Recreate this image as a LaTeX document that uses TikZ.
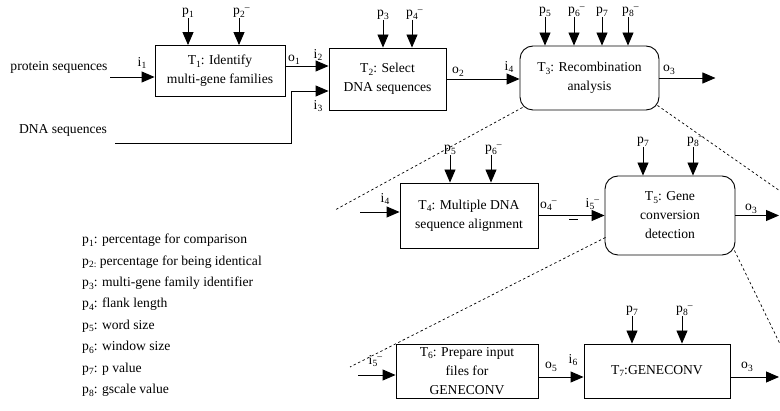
\documentclass[tikz,border=0pt]{standalone}
\usepackage{fontspec}
\setmainfont{Liberation Serif}
\usetikzlibrary{arrows.meta,positioning,calc}
\newcommand{\dn}[1]{\raisebox{-2.5pt}{\fontsize{9.5}{9.5}\selectfont#1}}
\newcommand{\up}[1]{\rlap{\raisebox{4.5pt}{\fontsize{9.5}{9.5}\selectfont#1}}}
\tikzset{task/.style={draw,line width=.9pt,align=center,inner sep=2pt,font=\fontsize{13.6}{19}\selectfont},
  ana/.style={task,rounded corners=13pt},
  flow/.style={line width=.9pt,-{Triangle[length=13pt,width=11pt]}},
  zoomline/.style={line width=.7pt,dash pattern=on 2.5pt off 2.5pt},
  lbl/.style={inner sep=0pt,font=\fontsize{13.6}{15}\selectfont}}
\begin{document}
\begin{tikzpicture}[x=1pt,y=-1pt]
\useasboundingbox (0,0) rectangle (780,411);
% top level workflow
\node[task,minimum width=130,minimum height=51] (T1) at (220,71) {T\dn{1}: Identify\\multi-gene families};
\node[task,minimum width=117,minimum height=62] (T2) at (387.5,79) {T\dn{2}: Select\\DNA sequences};
\node[ana,minimum width=139,minimum height=64] (T3) at (589.5,78) {T\dn{3}: Recombination\\analysis};
\node[lbl] (prot) at (59,67) {protein sequences};
\node[lbl] (dna) at (63,130) {DNA sequences};
\coordinate (pin) at (110,77);
\coordinate (din) at (115,143);
\coordinate (bend) at (291,91);
\coordinate (o1) at ([yshift=5pt]T1.east);
\coordinate (T3out) at ([xshift=56pt]T3.east);
\draw[flow] (pin) -- (pin -| T1.west);
\draw[flow] (o1) -- (o1 -| T2.west);
\draw[flow] (din) -| (bend) -- (bend -| T2.west);
\draw[flow] (T2.east) -- (T2.east -| T3.west);
\draw[flow] (T3.east) -- (T3out);
\node[lbl] (i1) at (142,63) {i\dn{1}};
\node[lbl] (o1l) at (294,60) {o\dn{1}};
\node[lbl] (i2) at (318,55) {i\dn{2}};
\node[lbl] (i3) at (318,106) {i\dn{3}};
\node[lbl] (o2) at (458,72) {o\dn{2}};
\node[lbl] (i4) at (509,67) {i\dn{4}};
\node[lbl] (o3) at (669,70) {o\dn{3}};
% parameters of the top level
\node[lbl,anchor=south] (p1) at (188,18) {p\dn{1}};
\node[lbl,anchor=south] (p2) at (239,18) {p\dn{2}\up{–}};
\node[lbl,anchor=south] (p3) at (383,20) {p\dn{3}};
\node[lbl,anchor=south] (p4) at (412,20) {p\dn{4}\up{–}};
\node[lbl,anchor=south] (p5) at (545,17) {p\dn{5}};
\node[lbl,anchor=south] (p6) at (574,17) {p\dn{6}\up{–}};
\node[lbl,anchor=south] (p7) at (602,17) {p\dn{7}};
\node[lbl,anchor=south] (p8) at (628,17) {p\dn{8}\up{–}};
\foreach \p/\t in {p1/T1,p2/T1,p3/T2,p4/T2,p5/T3,p6/T3,p7/T3,p8/T3}
  \draw[flow] (\p.south) -- (\p.south |- \t.north);
% T3 refined
\node[task,minimum width=138,minimum height=65] (T4) at (469,215.5) {T\dn{4}: Multiple DNA\\sequence alignment};
\node[ana,minimum width=130,minimum height=79] (T5) at (670,215.5) {T\dn{5}: Gene\\conversion\\detection};
\coordinate (T4in) at (360,212);
\coordinate (T5out) at (779,215.5);
\draw[flow] (T4in) -- (T4in -| T4.west);
\draw[flow] (T4.east) -- (T5.west);
\draw[line width=.9pt] (569,219.5) -- (578,219.5);
\draw[flow] (T5.east) -- (T5out);
\node[lbl] (i4b) at (385,199) {i\dn{4}};
\node[lbl] (o4) at (546,206) {o\dn{4}\up{–}};
\node[lbl] (i5) at (590,204) {i\dn{5}\up{–}};
\node[lbl] (o3b) at (751,209) {o\dn{3}};
\node[lbl,anchor=south] (q5) at (450,155) {p\dn{5}};
\node[lbl,anchor=south] (q6) at (491,155) {p\dn{6}\up{–}};
\node[lbl,anchor=south] (q7) at (643,147) {p\dn{7}};
\node[lbl,anchor=south] (q8) at (693,147) {p\dn{8}\up{–}};
\foreach \p/\t in {q5/T4,q6/T4,q7/T5,q8/T5}
  \draw[flow] (\p.south) -- (\p.south |- \t.north);
\coordinate (z1) at (335,210);
\coordinate (z2) at (780,191);
\draw[zoomline] ([xshift=3pt,yshift=3pt]T3.south west) -- (z1);
\draw[zoomline] ([xshift=-2pt,yshift=5pt]T3.south east) -- (z2);
% T5 refined
\node[task,minimum width=142,minimum height=54] (T6) at (467,371) {T\dn{6}: Prepare input\\files for\\GENECONV};
\node[task,minimum width=146,minimum height=54] (T7) at (657,371) {T\dn{7}:GENECONV};
\coordinate (T6in) at (358,375);
\coordinate (o5) at ([yshift=-6pt]T6.east);
\coordinate (o7) at ([yshift=-6pt]T7.east);
\coordinate (T7out) at (779,377);
\draw[flow] (T6in) -- (T6in -| T6.west);
\draw[flow] (o5) -- (o5 -| T7.west);
\draw[flow] (o7) -- (T7out);
\node[lbl] (i5b) at (373,361) {i\dn{5}\up{–}};
\node[lbl] (o5l) at (551,367) {o\dn{5}};
\node[lbl] (i6) at (573,360) {i\dn{6}};
\node[lbl] (o3c) at (747,367) {o\dn{3}};
\node[lbl,anchor=south] (r7) at (632,316) {p\dn{7}};
\node[lbl,anchor=south] (r8) at (682,316) {p\dn{8}\up{–}};
\foreach \p/\t in {r7/T7,r8/T7}
  \draw[flow] (\p.south) -- (\p.south |- \t.north);
\coordinate (z3) at (350,367);
\coordinate (z4) at (780,344);
\draw[zoomline] ([xshift=1pt,yshift=18pt]T5.south west) -- (z3);
\draw[zoomline] ([xshift=-1pt,yshift=5pt]T5.south east) -- (z4);
% legend
\node[lbl,align=left,anchor=north west,font=\fontsize{13.6}{21.4}\selectfont] (legend) at (82,234)
  {p\dn{1}: percentage for comparison\\
   p\dn{2:} percentage for being identical\\
   p\dn{3}: multi-gene family identifier\\
   p\dn{4}: flank length\\
   p\dn{5}: word size\\
   p\dn{6}: window size\\
   p\dn{7}: p value\\
   p\dn{8}: gscale value};
\end{tikzpicture}
\end{document}
